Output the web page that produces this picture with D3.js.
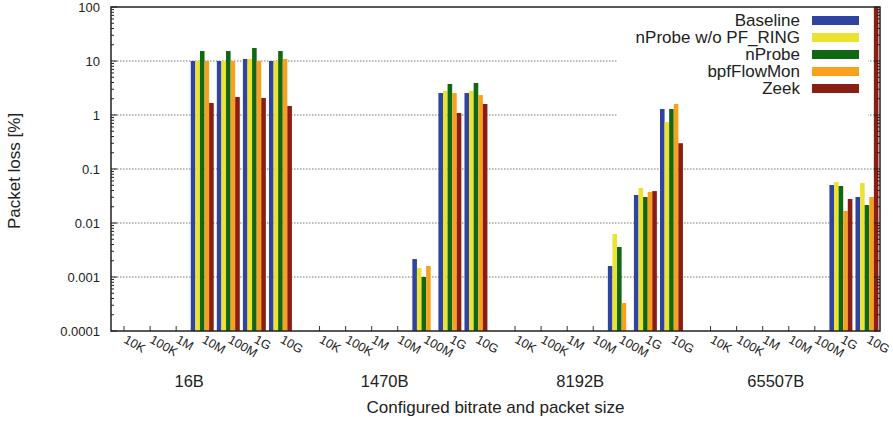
<!DOCTYPE html>
<html>
<head>
<meta charset="UTF-8" />
<script src="https://d3js.org/d3.v7.min.js"></script>
<style>
  body { margin: 0; background: #fff; }
  text { font-family: "Liberation Sans", Arial, sans-serif; fill: #222; }
</style>
</head>
<body>
<script>
// categorie
const sizes = ["16B", "1470B", "8192B", "65507B"];
const rates = ["10K", "100K", "1M", "10M", "100M", "1G", "10G"];
const seriesNames = ["Baseline", "nProbe w/o PF_RING", "nProbe", "bpfFlowMon", "Zeek"];
const seriesColors = ["#3043a0", "#ebe232", "#126712", "#f6a21f", "#8b1d13"];
const yTicks = [0.0001, 0.001, 0.01, 0.1, 1, 10, 100];
const yTickLabels = ["0.0001", "0.001", "0.01", "0.1", "1", "10", "100"];

// valori per serie: 4 gruppi x 7 bitrate (null = nessuna perdita)
const baseline = [
  null, null, null, 10, 10, 10.9, 10,
  null, null, null, null, 0.00215, 2.55, 2.55,
  null, null, null, null, 0.0016, 0.033, 1.29,
  null, null, null, null, null, 0.0506, 0.0303
];
const nprobeNoPF = [
  null, null, null, 10, 10, 10.9, 10,
  null, null, null, null, 0.00147, 2.78, 2.78,
  null, null, null, null, 0.00625, 0.0445, 0.74,
  null, null, null, null, null, 0.0574, 0.055
];
const nprobe = [
  null, null, null, 15.3, 15.3, 17.4, 15.3,
  null, null, null, null, 0.001, 3.75, 3.92,
  null, null, null, null, 0.0036, 0.0303, 1.29,
  null, null, null, null, null, 0.0484, 0.0215
];
const bpfFlowMon = [
  null, null, null, 10, 10, 10, 10.9,
  null, null, null, null, 0.0016, 2.55, 2.34,
  null, null, null, null, 0.00033, 0.0375, 1.6,
  null, null, null, null, null, 0.0167, 0.0303
];
const zeek = [
  null, null, null, 1.67, 2.15, 2.07, 1.47,
  null, null, null, null, null, 1.09, 1.6,
  null, null, null, null, null, 0.039, 0.30,
  null, null, null, null, null, 0.0278, 100
];
const allSeries = [baseline, nprobeNoPF, nprobe, bpfFlowMon, zeek];

const width = 893, height = 422;
const pLeft = 111, pRight = 880, pTop = 7, pBottom = 331;
const groupStride = 7.5;
const barW = 0.176;

const svg = d3.select("body").append("svg")
  .attr("width", width)
  .attr("height", height);

const x = d3.scaleLinear()
  .domain([-0.5, (sizes.length - 1) * groupStride + rates.length - 0.5])
  .range([pLeft, pRight]);

const y = d3.scaleLog()
  .domain([0.0001, 100])
  .range([pBottom, pTop]);

const pos = (g, i) => g * groupStride + i;

// griglia
svg.append("g")
  .selectAll("line")
  .data(yTicks.slice(1, -1))
  .join("line")
  .attr("x1", pLeft).attr("x2", pRight)
  .attr("y1", d => y(d)).attr("y2", d => y(d))
  .attr("stroke", "#777")
  .attr("stroke-width", 1)
  .attr("stroke-dasharray", "1.5,1.5");

// sfondo della legenda (copre la griglia)
svg.append("rect")
  .attr("x", 617).attr("y", pTop + 1)
  .attr("width", 251).attr("height", 113)
  .attr("fill", "#fff");

// barre
const barData = [];
allSeries.forEach((vals, s) => {
  vals.forEach((v, k) => {
    if (v == null) return;
    const g = Math.floor(k / rates.length), i = k % rates.length;
    barData.push({ s, v, c: pos(g, i) });
  });
});

// tacche asse x (sotto le barre)
const xt = svg.append("g");
sizes.forEach((sz, g) => {
  rates.forEach((r, i) => {
    xt.append("line")
      .attr("x1", x(pos(g, i))).attr("x2", x(pos(g, i)))
      .attr("y1", pBottom).attr("y2", pBottom - 5)
      .attr("stroke", "#333");
  });
});

svg.append("g")
  .selectAll("rect")
  .data(barData)
  .join("rect")
  .attr("x", d => x(d.c + (d.s - 2.5) * barW))
  .attr("width", x(barW) - x(0))
  .attr("y", d => y(d.v))
  .attr("height", d => pBottom - y(d.v))
  .attr("fill", d => seriesColors[d.s]);

// tacche asse y (sinistra e destra)
const yt = svg.append("g");
yTicks.forEach((t, j) => {
  [pLeft, pRight].forEach(xx => {
    const dir = xx === pLeft ? 1 : -1;
    yt.append("line")
      .attr("x1", xx).attr("x2", xx + dir * 6)
      .attr("y1", y(t)).attr("y2", y(t))
      .attr("stroke", "#222");
    if (j < yTicks.length - 1) {
      for (let m = 2; m <= 9; m++) {
        yt.append("line")
          .attr("x1", xx).attr("x2", xx + dir * 3)
          .attr("y1", y(t * m)).attr("y2", y(t * m))
          .attr("stroke", "#222");
      }
    }
  });
});

// bordo
svg.append("rect")
  .attr("x", pLeft).attr("y", pTop)
  .attr("width", pRight - pLeft).attr("height", pBottom - pTop)
  .attr("fill", "none")
  .attr("stroke", "#222")
  .attr("stroke-width", 1.5);

// etichette asse y
svg.append("g")
  .selectAll("text")
  .data(yTicks)
  .join("text")
  .attr("x", 100)
  .attr("y", d => y(d))
  .attr("dy", "0.35em")
  .attr("text-anchor", "end")
  .style("font-size", "13px")
  .text((d, j) => yTickLabels[j]);

// etichette asse x (ruotate)
sizes.forEach((sz, g) => {
  rates.forEach((r, i) => {
    const tx = x(pos(g, i)) - 1, ty = 342;
    svg.append("text")
      .attr("transform", `translate(${tx},${ty}) rotate(30)`)
      .style("font-size", "12.5px")
      .text(r);
  });
  svg.append("text")
    .attr("x", x(pos(g, 2.5)))
    .attr("y", 387)
    .attr("text-anchor", "middle")
    .style("font-size", "16.5px")
    .text(sz);
});

// titoli assi
svg.append("text")
  .attr("x", (pLeft + pRight) / 2)
  .attr("y", 413)
  .attr("text-anchor", "middle")
  .style("font-size", "17px")
  .text("Configured bitrate and packet size");

svg.append("text")
  .attr("transform", `translate(20,171) rotate(-90)`)
  .attr("text-anchor", "middle")
  .style("font-size", "17px")
  .text("Packet loss [%]");

// legenda
const legend = svg.append("g");
seriesNames.forEach((name, s) => {
  const cy = 20.5 + s * 17;
  legend.append("rect")
    .attr("x", 812).attr("y", cy - 4.5)
    .attr("width", 47).attr("height", 9)
    .attr("fill", seriesColors[s]);
  legend.append("text")
    .attr("x", 800)
    .attr("y", cy)
    .attr("dy", "0.35em")
    .attr("text-anchor", "end")
    .style("font-size", "17px")
    .text(name);
});
</script>
</body>
</html>
